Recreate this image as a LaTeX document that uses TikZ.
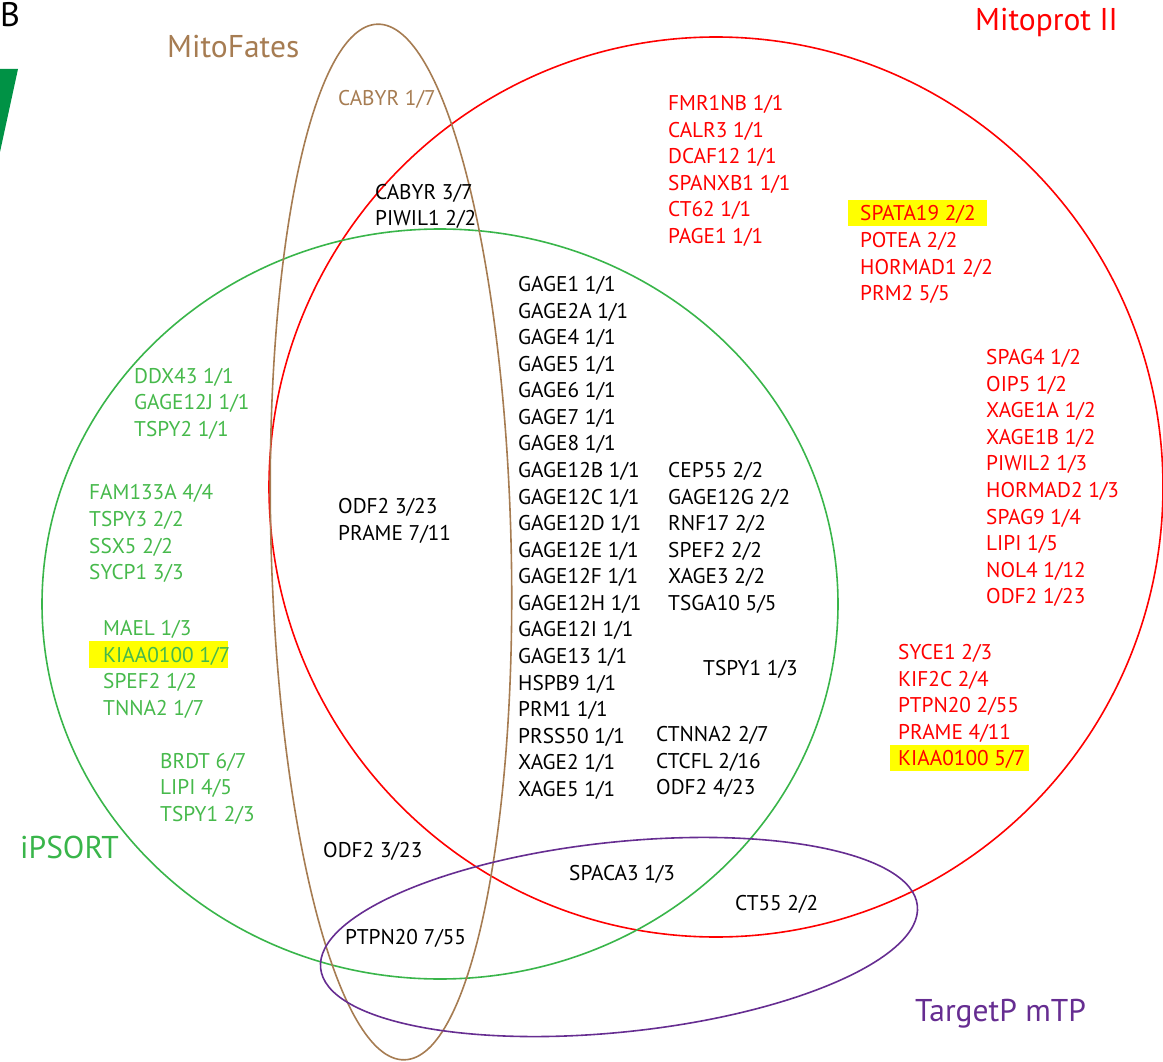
\documentclass[tikz,border=0pt]{standalone}
\usepackage{fontspec}
\setmainfont{PT Sans}
\definecolor{mred}{RGB}{255,0,0}
\definecolor{mgreen}{RGB}{57,181,74}
\definecolor{tgreen}{RGB}{70,185,75}
\definecolor{mbrown}{RGB}{166,124,82}
\definecolor{mpurple}{RGB}{102,45,145}
\definecolor{wgreen}{RGB}{0,146,69}
\definecolor{hl}{RGB}{255,255,0}
\begin{document}
\begin{tikzpicture}[x=1pt,y=-1pt,
  lbl/.style={anchor=base west,inner sep=0pt,font=\fontsize{21.3}{25}\selectfont},
  big/.style={anchor=base west,inner sep=0pt,font=\fontsize{31.5}{36}\selectfont},
  rt/.style={lbl,text=mred},
  gt/.style={lbl,text=tgreen},
  bt/.style={lbl,text=black},
  brt/.style={lbl,text=mbrown},
  ring/.style={line width=1.6pt}]
\useasboundingbox (0,0) rectangle (1163,1062);
% highlights
\fill[hl] (848,200) rectangle (987,226);
\fill[hl] (89,641) rectangle (228,668);
\fill[hl] (890,745) rectangle (1029,771);
% wedge
\fill[wgreen] (0,69) -- (18,69) -- (0,152) -- cycle;
% sets
\draw[ring,mred] (716pt,-487pt) ellipse [x radius=447pt, y radius=450pt];
\draw[ring,mgreen] (440pt,-604pt) ellipse [x radius=398pt, y radius=375pt];
\draw[ring,mbrown,rotate around={1.5:(391pt,-542pt)}] (391pt,-542pt) ellipse [x radius=120pt, y radius=518pt];
\draw[ring,mpurple,rotate around={6:(619pt,-937pt)}] (619pt,-937pt) ellipse [x radius=300pt, y radius=95pt];
% titles
\node[anchor=base west,inner sep=0pt,font=\fontsize{34}{38}\selectfont,text=black] (tB) at (0,27) {B};
\node[big,text=mbrown] (tMF) at (167,58) {MitoFates};
\node[big,text=mred] (tMP) at (975,31) {Mitoprot II};
\node[big,text=mgreen] (tIP) at (20,858) {iPSORT};
\node[big,text=mpurple] (tTP) at (915,1021) {TargetP mTP};
% brown only
\node[brt] (b1) at (338,105.5) {CABYR 1/7};
% brown & red
\node[bt] (br1) at (375,199.5) {CABYR 3/7};
\node[bt] (br2) at (375,225.5) {PIWIL1 2/2};
% red only col 1
\node[rt] (r1) at (668,110.5) {FMR1NB 1/1};
\node[rt] (r2) at (668,137.5) {CALR3 1/1};
\node[rt] (r3) at (668,163.5) {DCAF12 1/1};
\node[rt] (r4) at (668,190.5) {SPANXB1 1/1};
\node[rt] (r5) at (668,216.5) {CT62 1/1};
\node[rt] (r6) at (668,243.5) {PAGE1 1/1};
% red col 2
\node[rt] (r7) at (860,220.5) {SPATA19 2/2};
\node[rt] (r8) at (860,247.5) {POTEA 2/2};
\node[rt] (r9) at (860,274.5) {HORMAD1 2/2};
\node[rt] (r10) at (860,300.5) {PRM2 5/5};
% red col 3
\node[rt] (r11) at (986,364.5) {SPAG4 1/2};
\node[rt] (r12) at (986,391.5) {OIP5 1/2};
\node[rt] (r13) at (986,417.5) {XAGE1A 1/2};
\node[rt] (r14) at (986,444.5) {XAGE1B 1/2};
\node[rt] (r15) at (986,470.5) {PIWIL2 1/3};
\node[rt] (r16) at (986,497.5) {HORMAD2 1/3};
\node[rt] (r17) at (986,524.5) {SPAG9 1/4};
\node[rt] (r18) at (986,550.5) {LIPI 1/5};
\node[rt] (r19) at (986,577.5) {NOL4 1/12};
\node[rt] (r20) at (986,603.5) {ODF2 1/23};
% red col 4
\node[rt] (r21) at (898,659.5) {SYCE1 2/3};
\node[rt] (r22) at (898,686.5) {KIF2C 2/4};
\node[rt] (r23) at (898,712.5) {PTPN20 2/55};
\node[rt] (r24) at (898,739.5) {PRAME 4/11};
\node[rt] (r25) at (898,765.5) {KIAA0100 5/7};
% green & red
\node[bt] (k1) at (518,291.5) {GAGE1 1/1};
\node[bt] (k2) at (518,318.5) {GAGE2A 1/1};
\node[bt] (k3) at (518,344.5) {GAGE4 1/1};
\node[bt] (k4) at (518,371.5) {GAGE5 1/1};
\node[bt] (k5) at (518,397.5) {GAGE6 1/1};
\node[bt] (k6) at (518,424.5) {GAGE7 1/1};
\node[bt] (k7) at (518,450.5) {GAGE8 1/1};
\node[bt] (k8) at (518,477.5) {GAGE12B 1/1};
\node[bt] (k9) at (518,504.5) {GAGE12C 1/1};
\node[bt] (k10) at (518,530.5) {GAGE12D 1/1};
\node[bt] (k11) at (518,557.5) {GAGE12E 1/1};
\node[bt] (k12) at (518,583.5) {GAGE12F 1/1};
\node[bt] (k13) at (518,610.5) {GAGE12H 1/1};
\node[bt] (k14) at (518,636.5) {GAGE12I 1/1};
\node[bt] (k15) at (518,663.5) {GAGE13 1/1};
\node[bt] (k16) at (518,690.5) {HSPB9 1/1};
\node[bt] (k17) at (518,716.5) {PRM1 1/1};
\node[bt] (k18) at (518,743.5) {PRSS50 1/1};
\node[bt] (k19) at (518,769.5) {XAGE2 1/1};
\node[bt] (k20) at (518,796.5) {XAGE5 1/1};
\node[bt] (k21) at (668,477.5) {CEP55 2/2};
\node[bt] (k22) at (668,504.5) {GAGE12G 2/2};
\node[bt] (k23) at (668,530.5) {RNF17 2/2};
\node[bt] (k24) at (668,557.5) {SPEF2 2/2};
\node[bt] (k25) at (668,583.5) {XAGE3 2/2};
\node[bt] (k26) at (668,610.5) {TSGA10 5/5};
\node[bt] (k27) at (703,675.5) {TSPY1 1/3};
\node[bt] (k28) at (656,741.5) {CTNNA2 2/7};
\node[bt] (k29) at (656,768.5) {CTCFL 2/16};
\node[bt] (k30) at (656,794.5) {ODF2 4/23};
% brown green red
\node[bt] (bgr1) at (338,513.5) {ODF2 3/23};
\node[bt] (bgr2) at (338,540.5) {PRAME 7/11};
% green only
\node[gt] (g1) at (134,383.5) {DDX43 1/1};
\node[gt] (g2) at (134,409.5) {GAGE12J 1/1};
\node[gt] (g3) at (134,436.5) {TSPY2 1/1};
\node[gt] (g4) at (89,499.5) {FAM133A 4/4};
\node[gt] (g5) at (89,526.5) {TSPY3 2/2};
\node[gt] (g6) at (89,553.5) {SSX5 2/2};
\node[gt] (g7) at (89,579.5) {SYCP1 3/3};
\node[gt] (g8) at (103,635.5) {MAEL 1/3};
\node[gt] (g9) at (103,662.5) {KIAA0100 1/7};
\node[gt] (g10) at (103,688.5) {SPEF2 1/2};
\node[gt] (g11) at (103,715.5) {TNNA2 1/7};
\node[gt] (g12) at (160,768.5) {BRDT 6/7};
\node[gt] (g13) at (160,794.5) {LIPI 4/5};
\node[gt] (g14) at (160,821.5) {TSPY1 2/3};
% others
\node[bt] (bg1) at (323,857.5) {ODF2 3/23};
\node[bt] (grp1) at (569,880.5) {SPACA3 1/3};
\node[bt] (rp1) at (735,910.5) {CT55 2/2};
\node[bt] (bgp1) at (345,944.5) {PTPN20 7/55};
\end{tikzpicture}
\end{document}
